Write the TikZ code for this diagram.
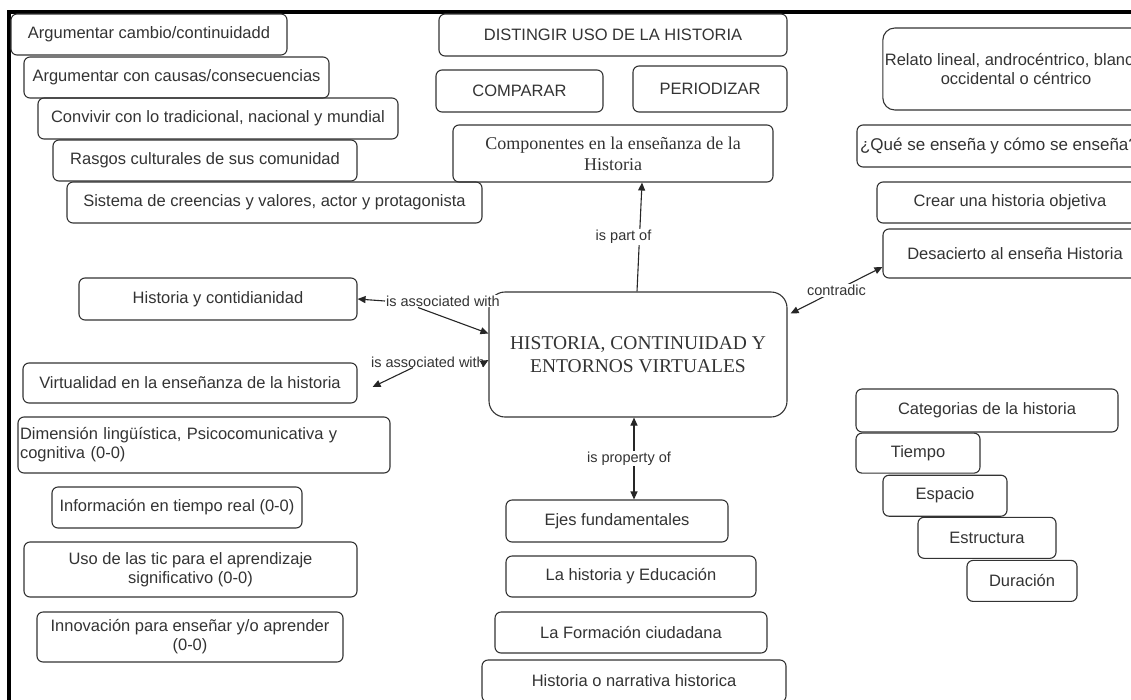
\documentclass[tikz,border=0pt]{standalone}
\usepackage{fontspec}
\setmainfont{Liberation Sans}
\newfontfamily\serifface{Liberation Serif}
\usepackage{tikz}
\usetikzlibrary{positioning, arrows.meta}
\definecolor{inkgray}{HTML}{333333}
\tikzset{idea node/.style={draw=inkgray, line width=1.1pt, rounded corners=6pt, text=inkgray,
    inner sep=2pt, align=center, minimum height=41pt, font=\fontsize{16.5}{19}\selectfont},
  core node/.style={idea node, rounded corners=16pt, font=\serifface\fontsize{19.5}{23}\selectfont},
  link label/.style={fill=white, inner sep=1pt, text=inkgray, font=\fontsize{14.5}{16}\selectfont},
  link/.style={draw=black!85, line width=1.1pt},
  tip/.tip={Triangle[length=8pt, width=7pt]},}

\begin{document}
\begin{tikzpicture}[x=1pt, y=-1pt]
        \useasboundingbox (0,0) rectangle (1131,699);
        \clip (0,0) rectangle (1131,699);
        % Frame
        \draw[line width=3.5pt] (9,705) -- (9,12) -- (1140,12);
        % Central idea
        \node[core node, minimum width=298pt, minimum height=125pt] (centre) at (638,354.5) {HISTORIA, CONTINUIDAD Y\\ENTORNOS VIRTUALES};
        % Skills (top left)
        \node[idea node, minimum width=276pt] (cambio) at (149,34.5) {Argumentar cambio/continuidadd};
        \node[idea node, minimum width=305pt] (causas) at (176.5,77.5) {Argumentar con causas/consecuencias};
        \node[idea node, minimum width=360pt] (convivir) at (218,118.5) {Convivir con lo tradicional, nacional y mundial};
        \node[idea node, minimum width=304pt] (rasgos) at (205,160.5) {Rasgos culturales de sus comunidad};
        \node[idea node, minimum width=415pt] (sistema) at (274.5,202.5) {Sistema de creencias y valores, actor y protagonista};
        % Components (top)
        \node[idea node, minimum width=348pt, minimum height=42pt] (distingir) at (613,35) {DISTINGIR USO DE LA HISTORIA};
        \node[idea node, minimum width=167pt, minimum height=42pt] (comparar) at (519.5,91) {COMPARAR};
        \node[idea node, minimum width=154pt, minimum height=46pt] (periodizar) at (710,89) {PERIODIZAR};
        \node[idea node, minimum width=320pt, minimum height=57pt, font=\serifface\fontsize{18}{21}\selectfont] (componentes) at (613,153.5) {Componentes en la enseñanza de la\\Historia};
        % Teaching (top right)
        \node[idea node, minimum width=266pt, minimum height=82pt, rounded corners=12pt] (relato) at (1016,69) {Relato lineal, androcéntrico, blanco,\\occidental o céntrico};
        \node[idea node, minimum width=284pt, minimum height=42pt, font=\fontsize{17}{19}\selectfont] (quese) at (999,146) {¿Qué se enseña y cómo se enseña?};
        \node[idea node, minimum width=266pt] (crear) at (1010,202.5) {Crear una historia objetiva};
        \node[idea node, minimum width=264pt, minimum height=49pt] (desacierto) at (1015,253.5) {Desacierto al enseña Historia};
        % Virtual settings (left)
        \node[idea node, minimum width=278pt, minimum height=42pt] (cotidiano) at (218,299) {Historia y contidianidad};
        \node[idea node, minimum width=334pt, minimum height=40pt] (virtual) at (190,383) {Virtualidad en la enseñanza de la historia};
        \node[idea node, minimum height=56pt, text width=368pt, align=left] (dimension) at (204,445) {Dimensión lingüística, Psicocomunicativa y\\cognitiva (0-0)};
        \node[idea node, minimum width=250pt] (tiempo real) at (177,507.5) {Información en tiempo real (0-0)};
        \node[idea node, minimum width=333pt, minimum height=55pt] (tic) at (190.5,569.5) {Uso de las tic para el aprendizaje\\significativo (0-0)};
        \node[idea node, minimum width=306pt, minimum height=50pt] (innovacion) at (190,637) {Innovación para enseñar y/o aprender\\(0-0)};
        % Axes (bottom)
        \node[idea node, minimum width=222pt, minimum height=42pt] (ejes) at (617,521) {Ejes fundamentales};
        \node[idea node, minimum width=250pt] (educacion) at (631,576.5) {La historia y Educación};
        \node[idea node, minimum width=272pt] (ciudadana) at (631,632.5) {La Formación ciudadana};
        \node[idea node, minimum width=304pt, minimum height=42pt] (narrativa) at (634,681) {Historia o narrativa historica};
        % Categories (bottom right)
        \node[idea node, minimum width=262pt, minimum height=43pt] (categorias) at (987,410.5) {Categorias de la historia};
        \node[idea node, minimum width=124pt, minimum height=40pt] (tiempo) [below right=0pt and 0pt of categorias.south west] {Tiempo};
        \node[idea node, minimum width=124pt] (espacio) [below right=1pt and 27pt of tiempo.south west] {Espacio};
        \node[idea node, minimum width=138pt] (estructura) [below right=0pt and 35pt of espacio.south west] {Estructura};
        \node[idea node, minimum width=110pt] (duracion) [below right=1pt and 49pt of estructura.south west] {Duración};
        % Links
        \draw[link, -tip] ([xshift=-1pt]centre.north) -- node[link label, xshift=-16pt] {is part of} ([xshift=29pt]componentes.south);
        \draw[link, tip-tip] ([xshift=3pt, yshift=41pt]centre.east) -- node[link label] {contradic} ([yshift=-13.5pt]desacierto.west);
        \draw[link, tip-tip] ([xshift=-4pt]centre.south) -- node[link label, xshift=-5pt] {is property of} ([xshift=17pt]ejes.north);
        \node[link label] (assoc1) at (443,301) {is associated with};
        \node[link label, inner sep=0pt] (assoc2) at (428,362) {is associated with};
        \draw[link, -tip] (assoc1.west) -- (cotidiano.east);
        \draw[link, -tip] ([xshift=-25pt]assoc1.south) -- ([yshift=21pt]centre.west);
        \draw[link, -tip] (assoc2.east) -- ([yshift=-5.5pt]centre.west);
        \draw[link, -tip] ([xshift=-15pt]assoc2.south) -- ([xshift=15pt, yshift=-4pt]virtual.east);
    \end{tikzpicture}
\end{document}
